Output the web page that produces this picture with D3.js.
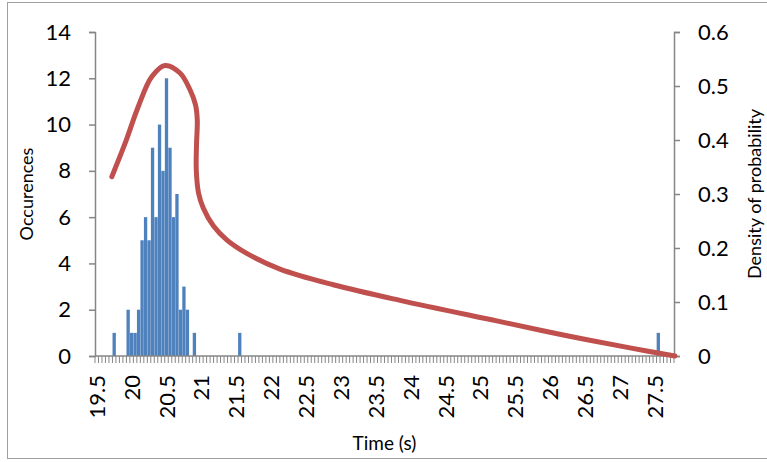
<!DOCTYPE html>
<html>
<head>
<meta charset="utf-8">
<script src="https://cdn.jsdelivr.net/npm/d3@7"></script>
<style>
  html, body { margin: 0; padding: 0; background: #fff; }
  text { font-family: Lato, "Open Sans", sans-serif; fill: #000; }
</style>
</head>
<body>
<div id="vis"></div>
<script>
// histogram bins: 0.05 s wide, first bin 19.50, last bin 27.75
const binFirst = 19.5;
const binStep = 0.05;
const binCount = 166;

// non-empty bins (bin start time) and their counts
const binTimes = [19.75, 19.95, 20.00, 20.05, 20.10, 20.15, 20.20, 20.25, 20.30, 20.35, 20.40,
                  20.45, 20.50, 20.55, 20.60, 20.65, 20.70, 20.75, 20.80, 20.90, 21.55, 27.55];
const counts   = [1, 2, 1, 1, 2, 5, 6, 5, 9, 6, 10,
                  8, 12, 9, 6, 7, 2, 3, 2, 1, 1, 1];

// fitted density curve (time, density) as drawn
const curveTimes   = [19.716, 19.907, 20.096, 20.288, 20.478, 20.693, 20.837, 20.916, 20.941, 20.930,
                      20.927, 20.959, 21.027, 21.171, 21.363, 21.650, 22.127, 22.891, 23.847, 25.233,
                      26.188, 27.144, 27.789];
const curveDensity = [0.332, 0.394, 0.462, 0.517, 0.538, 0.524, 0.493, 0.465, 0.437, 0.391,
                      0.344, 0.302, 0.274, 0.241, 0.215, 0.190, 0.161, 0.132, 0.103, 0.065,
                      0.039, 0.015, 0.0];

const xTickLabels = ['19.5', '20', '20.5', '21', '21.5', '22', '22.5', '23', '23.5', '24',
                     '24.5', '25', '25.5', '26', '26.5', '27', '27.5'];
const leftTicks  = [0, 2, 4, 6, 8, 10, 12, 14];
const rightTicks = [0, 0.1, 0.2, 0.3, 0.4, 0.5, 0.6];

const width = 767, height = 462;
const plot = { left: 95, right: 674, top: 32, bottom: 356 };
const axisColor = '#868686';

const svg = d3.select('#vis').append('svg')
  .attr('width', width)
  .attr('height', height);

// chart frame
svg.append('rect')
  .attr('x', 7.5).attr('y', 2.5)
  .attr('width', 800).attr('height', 456)
  .attr('fill', 'none')
  .attr('stroke', '#a0a0a0');

// scales
const categories = d3.range(binCount).map(i => (binFirst + i * binStep).toFixed(2));
const x = d3.scaleBand()
  .domain(categories)
  .range([plot.left, plot.right])
  .paddingInner(0.05)
  .paddingOuter(0.025);
const xStep = x.step();
const xt = d3.scaleLinear()
  .domain([binFirst - binStep / 2, binFirst + (binCount - 0.5) * binStep])
  .range([plot.left, plot.right]);
const yL = d3.scaleLinear().domain([0, 14]).range([plot.bottom, plot.top]);
const yR = d3.scaleLinear().domain([0, 0.6]).range([plot.bottom, plot.top]);

// bars
const bars = binTimes.map((t, i) => ({ cat: t.toFixed(2), n: counts[i] }));
svg.append('g')
  .selectAll('rect')
  .data(bars)
  .join('rect')
    .attr('x', d => x(d.cat))
    .attr('y', d => yL(d.n))
    .attr('width', x.bandwidth())
    .attr('height', d => yL(0) - yL(d.n))
    .attr('fill', '#4f81bd');

// left axis
const gL = svg.append('g')
  .attr('transform', `translate(${plot.left},0)`)
  .call(d3.axisLeft(yL).tickValues(leftTicks).tickSize(6).tickPadding(18).tickFormat(d3.format('d')));
gL.select('.domain').attr('stroke', axisColor).attr('stroke-width', 1.5);
gL.selectAll('.tick line').attr('stroke', axisColor).attr('stroke-width', 1.5);
gL.selectAll('.tick text').style('font-size', '22px').style('font-family', 'Lato, sans-serif');

// right axis
const gR = svg.append('g')
  .attr('transform', `translate(${plot.right},0)`)
  .call(d3.axisRight(yR).tickValues(rightTicks).tickSize(6).tickPadding(18).tickFormat(d => d === 0 ? '0' : d3.format('.1f')(d)));
gR.select('.domain').attr('stroke', axisColor).attr('stroke-width', 1.5);
gR.selectAll('.tick line').attr('stroke', axisColor).attr('stroke-width', 1.5);
gR.selectAll('.tick text').style('font-size', '22px').style('font-family', 'Lato, sans-serif');

// bottom axis: tick marks between categories, labels every 10th category
const edges = d3.range(binCount + 1).map(i => plot.left + i * xStep);
const gB = svg.append('g');
gB.selectAll('line.tk')
  .data(edges)
  .join('line')
    .attr('class', 'tk')
    .attr('x1', d => d).attr('x2', d => d)
    .attr('y1', plot.bottom).attr('y2', plot.bottom + 7)
    .attr('stroke', axisColor)
    .attr('stroke-width', 1);
gB.append('line')
  .attr('x1', plot.left).attr('x2', plot.right)
  .attr('y1', plot.bottom).attr('y2', plot.bottom)
  .attr('stroke', axisColor)
  .attr('stroke-width', 1.5);
gB.selectAll('text')
  .data(xTickLabels)
  .join('text')
    .attr('transform', d => {
      const cx = x((+d).toFixed(2)) + x.bandwidth() / 2 + 8;
      return `translate(${cx},${plot.bottom + 19}) rotate(-90)`;
    })
    .attr('text-anchor', 'end')
    .style('font-size', '22px')
    .text(d => d);

// density curve
const line = d3.line()
  .x(d => xt(d[0]))
  .y(d => yR(d[1]))
  .curve(d3.curveCatmullRom.alpha(0.5));
svg.append('path')
  .datum(curveTimes.map((t, i) => [t, curveDensity[i]]))
  .attr('d', line)
  .attr('fill', 'none')
  .attr('stroke', '#c0504d')
  .attr('stroke-width', 5)
  .attr('stroke-linecap', 'round')
  .attr('stroke-linejoin', 'round');

// axis titles
svg.append('text')
  .attr('transform', `translate(33,${(plot.top + plot.bottom) / 2}) rotate(-90)`)
  .attr('text-anchor', 'middle')
  .style('font-size', '18px')
  .text('Occurences');
svg.append('text')
  .attr('transform', `translate(761,${(plot.top + plot.bottom) / 2}) rotate(-90)`)
  .attr('text-anchor', 'middle')
  .style('font-size', '18px')
  .text('Density of probability');
svg.append('text')
  .attr('x', (plot.left + plot.right) / 2)
  .attr('y', 450)
  .attr('text-anchor', 'middle')
  .style('font-size', '19px')
  .text('Time (s)');
</script>
</body>
</html>
